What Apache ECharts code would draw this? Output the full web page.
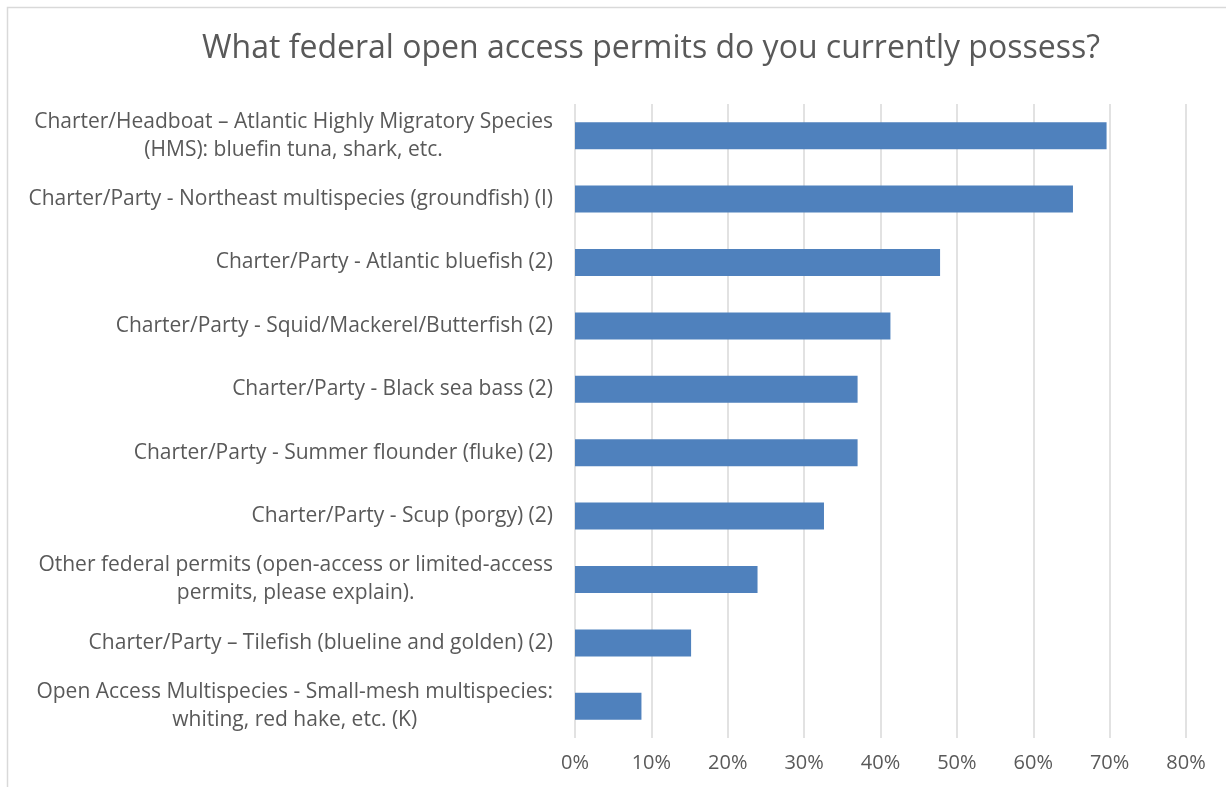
<!DOCTYPE html>
<html>
<head>
<meta charset="utf-8">
<script src="https://cdn.jsdelivr.net/npm/echarts@6/dist/echarts.min.js"></script>
<style>
  html, body { margin: 0; padding: 0; background: #fff; }
  #chart { width: 1226px; height: 787px; }
</style>
</head>
<body>
<div id="chart"></div>
<script>
// categories, top to bottom as shown
const categories = [
    'Charter/Headboat – Atlantic Highly Migratory Species\n(HMS): bluefin tuna, shark, etc.',
    'Charter/Party - Northeast multispecies (groundfish) (I)',
    'Charter/Party - Atlantic bluefish (2)',
    'Charter/Party - Squid/Mackerel/Butterfish (2)',
    'Charter/Party - Black sea bass (2)',
    'Charter/Party - Summer flounder (fluke) (2)',
    'Charter/Party - Scup (porgy) (2)',
    'Other federal permits (open-access or limited-access\npermits, please explain).',
    'Charter/Party – Tilefish (blueline and golden) (2)',
    'Open Access Multispecies - Small-mesh multispecies:\nwhiting, red hake, etc. (K)'
];
const values = [69.6, 65.2, 47.8, 41.3, 37.0, 37.0, 32.6, 23.9, 15.2, 8.7];
const xTicks = [0, 10, 20, 30, 40, 50, 60, 70, 80];

const textColor = '#595959';
const font = '"Open Sans", Lato, sans-serif';

const chart = echarts.init(document.getElementById('chart'));

chart.setOption({
    animation: false,
    graphic: [{
        type: 'rect',
        shape: { x: 7.5, y: 7.5, width: 1300, height: 900 },
        style: { fill: 'none', stroke: '#D9D9D9', lineWidth: 1.5 }
    }],
    title: {
        text: 'What federal open access permits do you currently possess?',
        left: 197,
        top: 28,
        textStyle: { color: textColor, fontFamily: font, fontSize: 32, fontWeight: 'normal' }
    },
    grid: { left: 575, right: 40, top: 104, bottom: 49, containLabel: false },
    xAxis: {
        type: 'value',
        min: xTicks[0],
        max: xTicks[xTicks.length - 1],
        interval: 10,
        axisLine: { show: false },
        axisTick: { show: false },
        splitLine: { show: true, lineStyle: { color: '#D9D9D9', width: 1.5 } },
        axisLabel: {
            color: textColor, fontFamily: font, fontSize: 20, margin: 15,
            formatter: v => v + '%'
        }
    },
    yAxis: {
        type: 'category',
        inverse: true,
        data: categories,
        axisLine: { show: false },
        axisTick: { show: false },
        axisLabel: {
            color: textColor, fontFamily: font, fontSize: 21, margin: 22,
            align: 'right', lineHeight: 28,
            formatter: v => v.split('\n').map(l => '{c|' + l + '}').join('\n'),
            rich: { c: { align: 'center', color: textColor, fontFamily: font, fontSize: 21, lineHeight: 28 } }
        }
    },
    series: [{
        type: 'bar',
        data: values,
        barWidth: 27,
        itemStyle: { color: '#4F81BD' }
    }]
});
</script>
</body>
</html>
